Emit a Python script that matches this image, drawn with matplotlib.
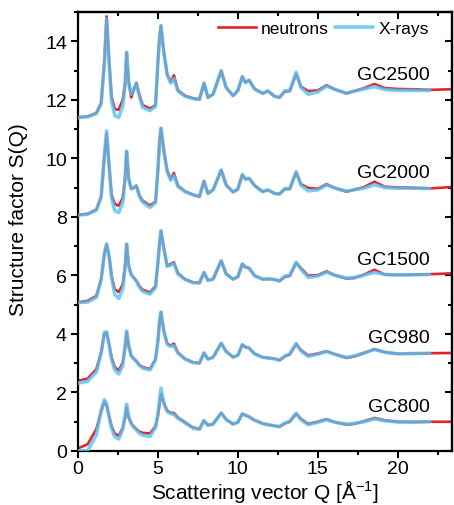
import matplotlib
matplotlib.use("Agg")
import matplotlib.pyplot as plt
from matplotlib.ticker import MultipleLocator
import numpy as np

plt.rcParams['font.family'] = ['Liberation Sans', 'DejaVu Sans']
plt.rcParams['mathtext.fontset'] = 'custom'
plt.rcParams['mathtext.rm'] = 'Liberation Sans'
plt.rcParams['mathtext.default'] = 'regular'

# Scattering vector grid (1/Angstrom)
q = [0, 0.6, 1.15, 1.45, 1.65, 1.79, 1.95, 2.1,
     2.3, 2.55, 2.8, 2.95, 3.04, 3.17, 3.33, 3.5,
     3.65, 3.85, 4.05, 4.5, 4.85, 5.0, 5.1, 5.19,
     5.37, 5.58, 5.8, 6.0, 6.25, 6.7, 7.2, 7.6,
     7.88, 8.13, 8.45, 8.96, 9.27, 9.7, 10.0, 10.28,
     10.48, 10.7, 11.05, 11.55, 11.88, 12.3, 12.6, 12.95,
     13.25, 13.65, 13.95, 14.4, 15.0, 15.55, 16.1, 16.8,
     17.3, 17.9, 18.55, 19.2, 20.0, 21.0, 22.0, 23.4]

samples = ['GC800', 'GC980', 'GC1500', 'GC2000', 'GC2500']
offsets = [0.0, 2.35, 5.03, 8.0, 11.35]

neutrons_GC800 = [0.09, 0.23, 0.75, 1.35, 1.69, 1.55, 1.18, 0.85,
                  0.60, 0.52, 0.80, 1.15, 1.49, 1.15, 0.95, 0.83,
                  0.75, 0.66, 0.62, 0.60, 0.85, 1.21, 1.60, 1.95,
                  1.62, 1.38, 1.31, 1.30, 1.15, 0.98, 0.80, 0.76,
                  1.04, 0.88, 0.92, 1.30, 1.08, 0.92, 0.98, 1.27,
                  1.22, 1.17, 1.05, 0.94, 0.90, 0.86, 0.83, 0.94,
                  1.00, 1.27, 1.10, 0.93, 1.00, 1.09, 0.98, 0.90,
                  0.93, 1.02, 1.13, 1.05, 1.00, 0.99, 1.00, 1.00]
xrays_GC800 = [0.00, 0.01, 0.55, 1.40, 1.75, 1.62, 1.15, 0.78,
               0.49, 0.41, 0.75, 1.20, 1.60, 1.18, 0.93, 0.80,
               0.72, 0.60, 0.54, 0.50, 0.80, 1.25, 1.75, 2.15,
               1.65, 1.35, 1.28, 1.25, 1.12, 0.96, 0.78, 0.74,
               1.04, 0.88, 0.92, 1.30, 1.08, 0.92, 0.98, 1.27,
               1.22, 1.17, 1.05, 0.94, 0.90, 0.86, 0.83, 0.96,
               1.02, 1.29, 1.07, 0.90, 0.98, 1.07, 0.98, 0.92,
               0.94, 1.00, 1.10, 1.03, 0.99, 0.99, 1.00]

neutrons_GC980 = [0.05, 0.12, 0.45, 1.02, 1.66, 1.70, 1.28, 0.85,
                  0.52, 0.39, 0.68, 1.20, 1.72, 1.25, 0.90, 0.80,
                  0.72, 0.59, 0.52, 0.45, 0.79, 1.40, 2.05, 2.39,
                  1.75, 1.32, 1.25, 1.32, 1.02, 0.80, 0.68, 0.66,
                  1.00, 0.79, 0.85, 1.33, 1.05, 0.86, 0.92, 1.28,
                  1.20, 1.17, 0.97, 0.85, 0.83, 0.80, 0.75, 0.88,
                  0.95, 1.30, 1.10, 0.92, 0.98, 1.06, 0.95, 0.83,
                  0.88, 1.00, 1.13, 1.03, 0.97, 0.98, 0.99, 1.00]
xrays_GC980 = [-0.03, 0.03, 0.35, 1.00, 1.70, 1.72, 1.28, 0.78,
               0.42, 0.28, 0.57, 1.25, 1.75, 1.25, 0.90, 0.80,
               0.71, 0.57, 0.48, 0.42, 0.76, 1.42, 2.07, 2.40,
               1.75, 1.30, 1.22, 1.25, 1.00, 0.79, 0.67, 0.65,
               1.00, 0.79, 0.85, 1.33, 1.05, 0.86, 0.92, 1.28,
               1.20, 1.17, 0.97, 0.85, 0.83, 0.80, 0.75, 0.90,
               0.97, 1.32, 1.07, 0.88, 0.96, 1.05, 0.95, 0.85,
               0.90, 1.00, 1.12, 1.02, 0.97, 0.98, 0.99]

neutrons_GC1500 = [0.05, 0.10, 0.27, 0.85, 1.70, 2.04, 1.60, 0.96,
                   0.50, 0.40, 0.67, 1.30, 2.04, 1.30, 1.00, 0.88,
                   0.79, 0.60, 0.48, 0.39, 0.60, 1.40, 2.05, 2.49,
                   1.90, 1.30, 1.36, 1.42, 1.05, 0.84, 0.73, 0.72,
                   1.07, 0.80, 0.84, 1.47, 1.02, 0.84, 0.92, 1.36,
                   1.25, 1.22, 0.96, 0.84, 0.85, 0.83, 0.78, 0.92,
                   0.95, 1.40, 1.22, 0.96, 0.98, 1.11, 0.97, 0.86,
                   0.88, 1.00, 1.16, 1.00, 0.99, 1.00, 1.01, 1.04]
xrays_GC1500 = [0.04, 0.06, 0.22, 0.82, 1.72, 2.04, 1.62, 0.90,
                0.32, 0.18, 0.50, 1.25, 2.04, 1.30, 1.00, 0.88,
                0.78, 0.56, 0.42, 0.33, 0.55, 1.42, 2.05, 2.49,
                1.90, 1.28, 1.32, 1.38, 1.02, 0.83, 0.72, 0.71,
                1.07, 0.80, 0.84, 1.47, 1.02, 0.84, 0.92, 1.36,
                1.25, 1.22, 0.96, 0.84, 0.85, 0.83, 0.78, 0.95,
                0.97, 1.42, 1.18, 0.90, 0.95, 1.08, 0.97, 0.88,
                0.90, 0.98, 1.07, 1.00, 0.98, 0.99, 1.00]

neutrons_GC2000 = [0.07, 0.10, 0.25, 0.70, 2.05, 2.85, 1.70, 0.75,
                   0.44, 0.38, 0.65, 1.35, 2.24, 1.30, 0.95, 1.00,
                   1.07, 0.72, 0.55, 0.39, 0.52, 1.60, 2.55, 3.03,
                   2.26, 1.58, 1.29, 1.50, 1.07, 0.87, 0.76, 0.70,
                   1.22, 0.80, 0.92, 1.60, 1.09, 0.85, 0.95, 1.44,
                   1.29, 1.32, 1.07, 0.86, 0.92, 0.80, 0.78, 0.95,
                   0.95, 1.52, 1.12, 0.99, 0.96, 1.12, 0.98, 0.86,
                   0.93, 1.02, 1.20, 1.03, 1.01, 0.99, 0.97, 1.02]
xrays_GC2000 = [0.06, 0.09, 0.23, 0.68, 2.10, 2.94, 1.75, 0.65,
                0.21, 0.15, 0.49, 1.30, 2.24, 1.30, 0.97, 1.00,
                1.05, 0.70, 0.50, 0.32, 0.48, 1.62, 2.55, 3.03,
                2.26, 1.55, 1.25, 1.41, 1.04, 0.86, 0.75, 0.69,
                1.22, 0.80, 0.92, 1.60, 1.09, 0.85, 0.95, 1.44,
                1.29, 1.32, 1.07, 0.86, 0.92, 0.80, 0.78, 0.97,
                0.97, 1.54, 1.08, 0.89, 0.92, 1.09, 0.98, 0.88,
                0.93, 0.98, 1.10, 1.00, 0.98, 0.98, 0.97]

neutrons_GC2500 = [0.05, 0.08, 0.20, 0.55, 1.95, 3.50, 1.95, 0.75,
                   0.33, 0.31, 0.65, 1.25, 2.27, 1.25, 0.73, 1.00,
                   1.23, 0.80, 0.47, 0.35, 0.47, 1.95, 2.75, 3.18,
                   2.27, 1.53, 1.27, 1.49, 0.98, 0.79, 0.70, 0.67,
                   1.22, 0.73, 0.84, 1.64, 1.07, 0.79, 0.96, 1.44,
                   1.24, 1.32, 1.02, 0.87, 0.95, 0.77, 0.73, 0.93,
                   0.95, 1.53, 1.10, 0.95, 0.97, 1.15, 1.00, 0.87,
                   0.95, 1.05, 1.19, 1.05, 1.02, 1.01, 0.99, 1.01]
xrays_GC2500 = [0.04, 0.07, 0.18, 0.52, 1.90, 3.41, 1.90, 0.62,
                0.11, 0.05, 0.45, 1.15, 2.27, 1.25, 0.84, 1.02,
                1.20, 0.75, 0.39, 0.28, 0.42, 1.95, 2.75, 3.18,
                2.27, 1.50, 1.22, 1.38, 0.95, 0.77, 0.69, 0.66,
                1.22, 0.73, 0.84, 1.64, 1.07, 0.79, 0.96, 1.44,
                1.24, 1.32, 1.02, 0.87, 0.95, 0.77, 0.73, 0.96,
                0.96, 1.59, 1.07, 0.84, 0.92, 1.12, 1.00, 0.87,
                0.95, 1.02, 1.10, 1.00, 0.97, 0.97, 0.97]

neutrons = [neutrons_GC800, neutrons_GC980, neutrons_GC1500, neutrons_GC2000, neutrons_GC2500]
xrays = [xrays_GC800, xrays_GC980, xrays_GC1500, xrays_GC2000, xrays_GC2500]

RED = '#e3232a'
BLUE = '#55c3f5'

fig = plt.figure(figsize=(4.54, 5.06), dpi=100)
ax = fig.add_axes([78/454, 54/506, 374/454, 439/506])

qa = np.array(q)
for name, off, sn, sx in zip(samples, offsets, neutrons, xrays):
    ax.plot(qa, np.array(sn) + off, color=RED, lw=1.9, zorder=2,
            label='neutrons' if name == 'GC800' else None)
    ax.plot(qa[:len(sx)], np.array(sx) + off, color=BLUE, lw=2.6, alpha=0.8,
            zorder=3, solid_capstyle='round',
            label='X-rays' if name == 'GC800' else None)
    ax.text(22.0, off + 1.52, name, ha='right', va='center', fontsize=14)

ax.set_xlim(0, 23.4)
ax.set_ylim(0, 15)
ax.xaxis.set_major_locator(MultipleLocator(5))
ax.xaxis.set_minor_locator(MultipleLocator(2.5))
ax.yaxis.set_major_locator(MultipleLocator(2))
ax.yaxis.set_minor_locator(MultipleLocator(1))
ax.tick_params(which='major', direction='out', length=5, width=1.5, labelsize=14, pad=3)
ax.tick_params(axis='x', which='major', pad=1.5)
ax.tick_params(which='minor', direction='out', length=3, width=1.5)
for s in ax.spines.values():
    s.set_linewidth(1.6)

secx = ax.secondary_xaxis('top')
secx.xaxis.set_major_locator(MultipleLocator(5))
secx.xaxis.set_minor_locator(MultipleLocator(2.5))
secx.tick_params(which='major', direction='in', length=5, width=1.5, labeltop=False)
secx.tick_params(which='minor', direction='in', length=3, width=1.5)
secx.spines['top'].set_linewidth(1.6)
secy = ax.secondary_yaxis('right')
secy.yaxis.set_major_locator(MultipleLocator(2))
secy.yaxis.set_minor_locator(MultipleLocator(1))
secy.tick_params(which='major', direction='in', length=5, width=1.5, labelright=False)
secy.tick_params(which='minor', direction='in', length=3, width=1.5)
secy.spines['right'].set_linewidth(1.6)

ax.set_xlabel('Scattering vector Q [Å$^{-1}$]', fontsize=15, labelpad=0)
ax.set_ylabel('Structure factor S(Q)', fontsize=15)
ax.yaxis.set_label_coords(-0.135, 0.53)

ax.legend(loc='upper right', bbox_to_anchor=(0.98, 1.015), ncol=2, frameon=False,
          fontsize=12.5, handlelength=2.2, handletextpad=0.3, columnspacing=0.35)

fig.savefig('out.png', dpi=100)
